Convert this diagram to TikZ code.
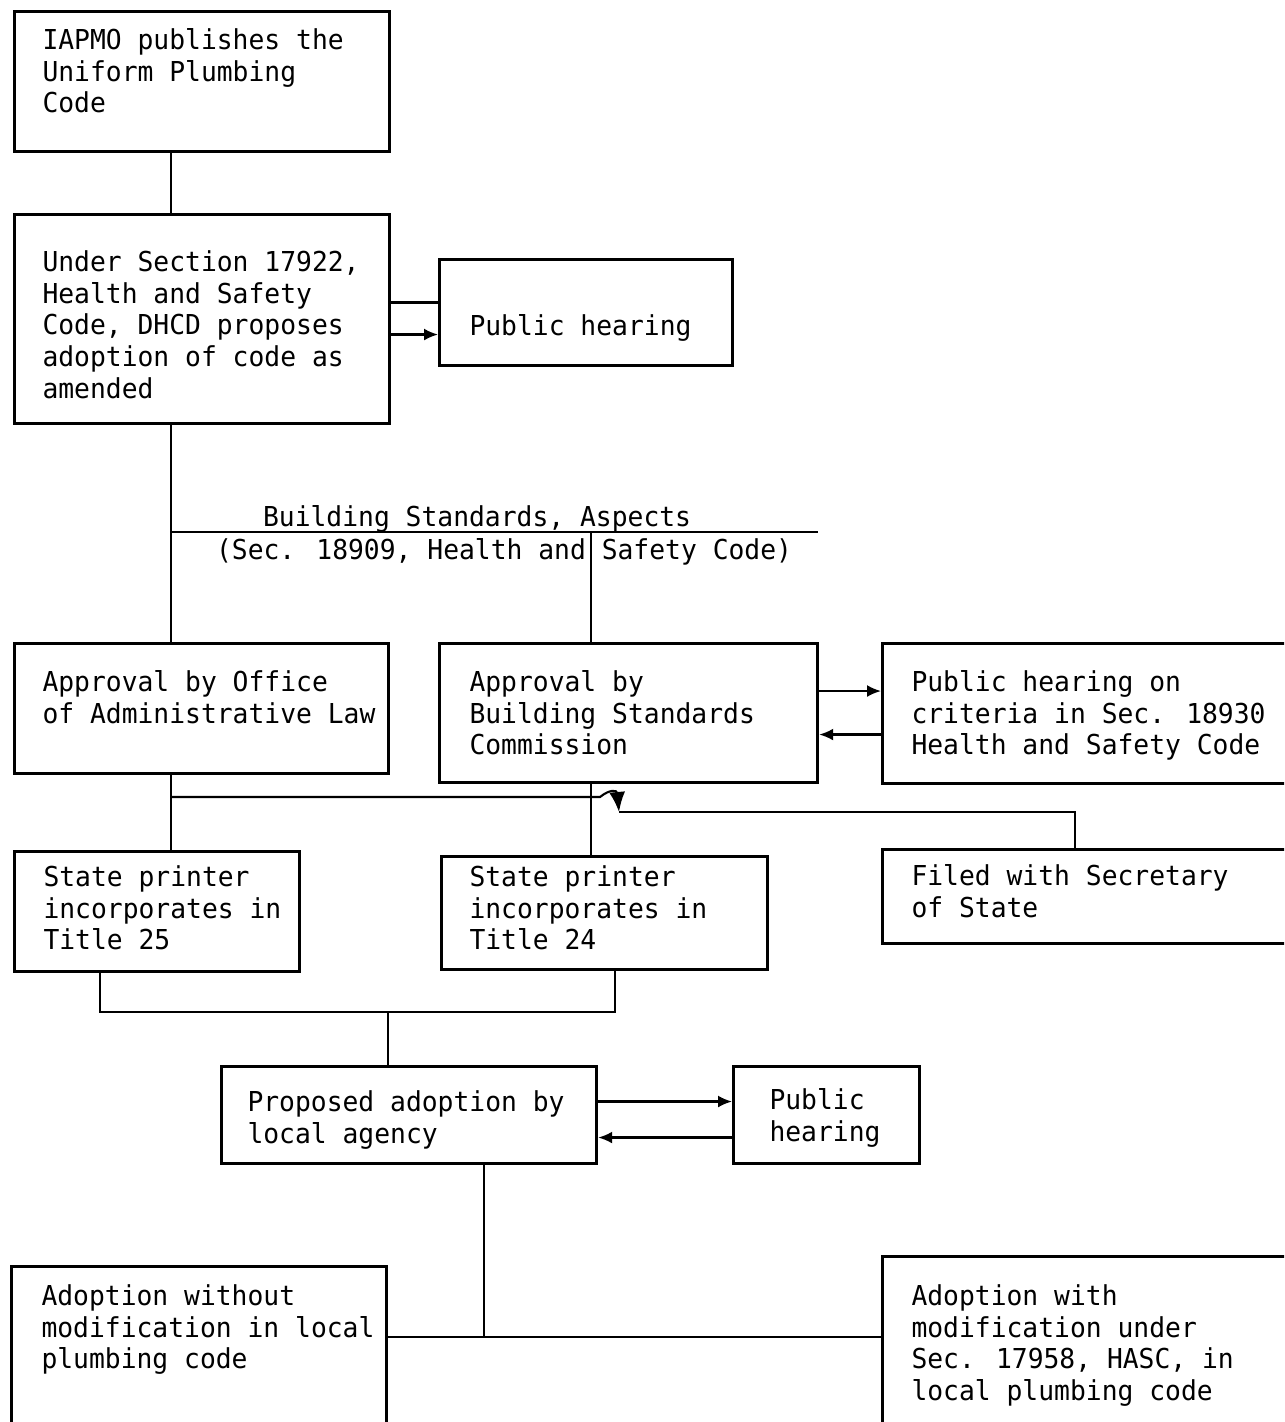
\documentclass[tikz,border=0pt]{standalone}
\usepackage{fontspec}
\usetikzlibrary{arrows.meta}
\newfontfamily\typefont[FakeStretch=0.96]{DejaVu Sans Mono}
\newcommand{\boxtext}[5][0.28cm]{\parbox[c][#3][t]{#2}{\raggedright\leftskip=#1\relax\vspace*{#4}\strut #5}}
\tikzset{
  codebox/.style={draw, line width=0.85pt, inner sep=0pt, anchor=north west,
    font=\typefont\fontsize{7.8}{9}\selectfont},
  captext/.style={inner sep=0pt, anchor=base west,
    font=\typefont\fontsize{7.8}{9}\selectfont},
}
\begin{document}
\begin{tikzpicture}[x=0.01cm, y=-0.01cm, line width=0.6pt, >={Latex[length=1.4mm,width=1.2mm]}]
      \clip (0,0) rectangle (1284,1422);
      % boxes
      \node[codebox] (iapmo) at (13,10) {\boxtext{3.75cm}{1.40cm}{0.16cm}{IAPMO publishes the\\Uniform Plumbing\\Code}};
      \node[codebox] (section) at (13,213) {\boxtext{3.75cm}{2.09cm}{0.35cm}{Under Section 17922,\\Health and Safety\\Code, DHCD proposes\\adoption of code as\\amended}};
      \node[codebox] (hearing1) at (438,258) {\boxtext[0.30cm]{2.93cm}{1.06cm}{0.54cm}{Public hearing}};
      \node[codebox] (oal) at (13,642) {\boxtext{3.74cm}{1.30cm}{0.26cm}{Approval by Office\\of Administrative Law}};
      \node[codebox] (bsc) at (438,642) {\boxtext[0.30cm]{3.78cm}{1.39cm}{0.26cm}{Approval by\\Building Standards\\Commission}};
      \node[codebox] (criteria) at (881,642) {\boxtext[0.29cm]{4.20cm}{1.40cm}{0.26cm}{Public hearing on\\criteria in Sec. 18930\\Health and Safety Code}};
      \node[codebox] (printer25) at (13,850) {\boxtext[0.29cm]{2.85cm}{1.20cm}{0.13cm}{State printer\\incorporates in\\Title 25}};
      \node[codebox] (printer24) at (440,855) {\boxtext{3.26cm}{1.13cm}{0.08cm}{State printer\\incorporates in\\Title 24}};
      \node[codebox] (filed) at (881,848) {\boxtext[0.29cm]{4.20cm}{0.94cm}{0.14cm}{Filed with Secretary\\of State}};
      \node[codebox] (proposed) at (220,1065) {\boxtext[0.26cm]{3.75cm}{0.97cm}{0.23cm}{Proposed adoption by\\local agency}};
      \node[codebox] (hearing2) at (732,1065) {\boxtext[0.36cm]{1.86cm}{0.97cm}{0.21cm}{Public\\hearing}};
      \node[codebox] (without) at (10,1265) {\boxtext[0.30cm]{3.75cm}{2.00cm}{0.17cm}{Adoption without\\modification in local\\plumbing code}};
      \node[codebox] (with) at (881,1255) {\boxtext[0.29cm]{4.20cm}{2.10cm}{0.27cm}{Adoption with\\modification under\\Sec. 17958, HASC, in\\local plumbing code}};
      % building standards line
      \node[captext] (bsaspects) at (262,527) {Building Standards, Aspects};
      \node[captext] (bssec) at (215,559) {(Sec. 18909, Health and Safety Code)};
      \coordinate (spine) at (171,532);
      \coordinate (bsend) at (818,532);
      \coordinate (bsdrop) at (591,532);
      \coordinate (approvalbus) at (171,797);
      \coordinate (busend) at (600,797);
      \coordinate (filedjoin) at (619,812);
      \coordinate (filedturn) at (1075,812);
      \coordinate (printbus) at (100,1012);
      \coordinate (printbusend) at (615,1012);
      \coordinate (printjoin) at (388,1012);
      \coordinate (localdrop) at (484,1337);
      % connectors
      \draw (iapmo.south -| spine) -- (section.north -| spine);
      \draw (section.south -| spine) -- (oal.north -| spine);
      \draw (spine) -- (bsend);
      \draw (bsdrop) -- (bsc.north -| bsdrop);
      \draw ([yshift=1mm]hearing1.west) -- ([yshift=1mm]hearing1.west -| section.east);
      \draw[->] ([yshift=-2.2mm]hearing1.west -| section.east) -- ([yshift=-2.2mm]hearing1.west);
      \draw[->] ([yshift=2.2mm]bsc.east) -- ([yshift=2.2mm]bsc.east -| criteria.west);
      \draw[->] ([yshift=-2.1mm]criteria.west) -- ([yshift=-2.1mm]criteria.west -| bsc.east);
      \draw (oal.south -| approvalbus) -- (printer25.north -| approvalbus);
      \draw (bsc.south -| bsdrop) -- (printer24.north -| bsdrop);
      \draw[-{Latex[length=2mm,width=1.6mm]}] (approvalbus) -- (busend) .. controls (610,789) and (617,790) .. (filedjoin);
      \draw (filedjoin) -- (filedturn) -- (filed.north -| filedturn);
      \draw (printer25.south -| printbus) -- (printbus) -- (printbusend) -- (printer24.south -| printbusend);
      \draw (printjoin) -- (proposed.north -| printjoin);
      \draw[->] ([yshift=1.35mm]proposed.east) -- ([yshift=1.35mm]proposed.east -| hearing2.west);
      \draw[->] ([yshift=-2.25mm]hearing2.west) -- ([yshift=-2.25mm]hearing2.west -| proposed.east);
      \draw (proposed.south -| localdrop) -- (localdrop);
      \draw (without.east |- localdrop) -- (with.west |- localdrop);
    \end{tikzpicture}
\end{document}
